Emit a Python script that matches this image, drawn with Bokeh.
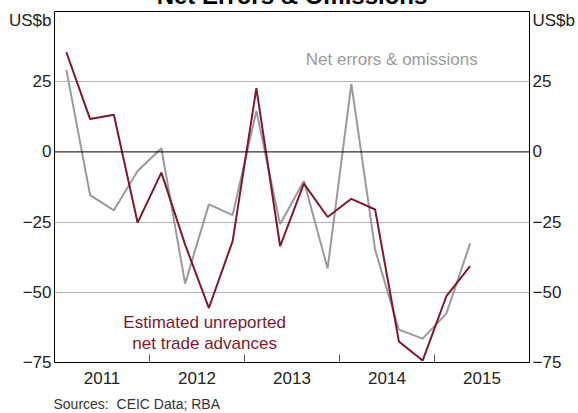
from bokeh.plotting import figure
from bokeh.models import Range1d, FixedTicker, LinearAxis, Label, Span, Title
from bokeh.embed import file_html
from bokeh.resources import INLINE

# ---- data ----
quarters = ["2011Q1", "2011Q2", "2011Q3", "2011Q4",
            "2012Q1", "2012Q2", "2012Q3", "2012Q4",
            "2013Q1", "2013Q2", "2013Q3", "2013Q4",
            "2014Q1", "2014Q2", "2014Q3", "2014Q4",
            "2015Q1", "2015Q2"]
unreported = [35.5, 11.7, 13.2, -25.2, -7.4, -33.0, -55.6, -31.8, 22.7,
              -33.6, -11.3, -23.2, -16.7, -20.5, -67.5, -74.3, -51.4, -40.7]
net_eo = [29.2, -15.4, -20.8, -6.8, 1.3, -46.9, -18.7, -22.5, 14.6,
          -25.8, -10.4, -41.5, 24.2, -34.8, -63.3, -66.5, -57.6, -32.6]
year_labels = ["2011", "2012", "2013", "2014", "2015"]
y_ticks = [-75, -50, -25, 0, 25]
grid_values = [-50, -25, 25]
unit_label = "US$b"
unit_pos = 46.8
title_text = "Net Errors & Omissions"
source_text = "Sources:\u00a0 CEIC Data; RBA"

RED = "#7a1a2c"
GREY = "#9a9a9a"
FONT = "Liberation Sans"
HIDDEN = 24   # part of the figure pushed above the page top
EXTRA = 14    # spare room below the page bottom


def qpos(q):
    return int(q[:4]) + (int(q[-1]) - 0.5) / 4.0


x = [qpos(q) for q in quarters]
years = [int(y) for y in year_labels]
label_pos = [y + 0.5 for y in years]
boundaries = years[1:]

p = figure(width=578, height=413 + HIDDEN + EXTRA, output_backend="svg",
           toolbar_location=None,
           x_range=Range1d(years[0], years[-1] + 1), y_range=Range1d(-75, 50),
           min_border_left=54, min_border_right=48, min_border_top=11 + HIDDEN,
           min_border_bottom=51 + EXTRA)
p.styles = {"margin-top": "-%dpx" % HIDDEN, "margin-bottom": "-%dpx" % EXTRA}
p.background_fill_color = "white"
p.border_fill_color = "white"
p.outline_line_color = "black"
p.outline_line_width = 1

# title (mostly above the visible page, as in the reference)
p.add_layout(Title(text=title_text, align="center", offset=-2, standoff=6,
                   text_font=FONT, text_font_size="24px", text_font_style="bold",
                   text_color="black"), "above")

# x axis
xa = p.xaxis[0]
xa.ticker = FixedTicker(ticks=label_pos, minor_ticks=boundaries)
xa.major_label_overrides = {lp: lab for lp, lab in zip(label_pos, year_labels)}
xa.major_tick_in = 0
xa.major_tick_out = 0
xa.minor_tick_in = 8
xa.minor_tick_out = 0
xa.minor_tick_line_color = "#555555"
xa.axis_line_color = "black"
xa.major_label_text_font = FONT
xa.major_label_text_font_size = "17px"
xa.major_label_text_color = "#222222"
xa.major_label_standoff = 9
p.xgrid.visible = False

# sources line
p.add_layout(Title(text=source_text, align="left", offset=-1, standoff=15,
                   text_font=FONT, text_font_size="14px", text_font_style="normal",
                   text_color="#333333"), "below")

# y axes
ya = p.yaxis[0]
ra = LinearAxis()
p.add_layout(ra, "right")
for ax in (ya, ra):
    ax.ticker = FixedTicker(ticks=y_ticks + [unit_pos])
    ax.major_label_overrides = {unit_pos: unit_label}
    ax.major_tick_in = 0
    ax.major_tick_out = 0
    ax.minor_tick_in = 0
    ax.minor_tick_out = 0
    ax.axis_line_color = None
    ax.major_label_text_font = FONT
    ax.major_label_text_font_size = "17px"
    ax.major_label_text_color = "#222222"
    ax.major_label_standoff = 3

p.ygrid.ticker = FixedTicker(ticks=grid_values)
p.ygrid.grid_line_color = "#b4b4b4"
p.ygrid.grid_line_width = 1

p.add_layout(Span(location=0, dimension="width", line_color="black", line_width=1))

p.line(x, net_eo, line_color=GREY, line_width=2)
p.line(x, unreported, line_color=RED, line_width=2)

# series annotations
p.add_layout(Label(x=2013.645, y=33, text="Net errors & omissions",
                   text_font=FONT, text_font_size="17px", text_color=GREY,
                   text_baseline="middle", text_align="left"))
p.add_layout(Label(x=2012.58, y=-60.6, text="Estimated unreported",
                   text_font=FONT, text_font_size="17px", text_color=RED,
                   text_baseline="middle", text_align="center"))
p.add_layout(Label(x=2012.58, y=-68.2, text="net trade advances",
                   text_font=FONT, text_font_size="17px", text_color=RED,
                   text_baseline="middle", text_align="center"))

open("out.html", "w").write(file_html(p, INLINE))
